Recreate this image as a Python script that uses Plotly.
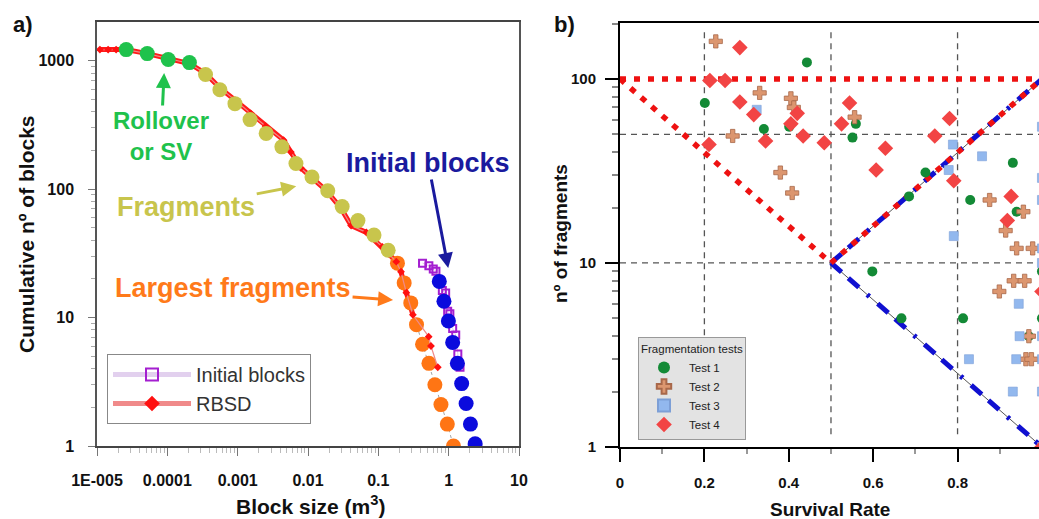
import math
import plotly.graph_objects as go

W, H = 1039, 519
FONT = "Arial, Liberation Sans, sans-serif"

# ---------------- Panel a data ----------------
rbsd_size = [1.10e-5, 1.44e-5, 1.87e-5, 2.60e-5, 5.18e-5, 1.03e-4, 2.06e-4, 3.49e-4, 5.7e-4, 9.3e-4,
             1.53e-3, 2.5e-3, 4.5e-3, 5.7e-3, 7.9e-3, 1.14e-2, 1.8e-2, 2.94e-2, 4.1e-2, 6.75e-2,
             0.114, 0.14, 0.18, 0.21, 0.25, 0.31, 0.52, 0.56, 0.70]
rbsd_count = [1217, 1217, 1217, 1217, 1133, 1037, 949, 793, 607, 490,
              388, 308, 240, 194, 146, 122, 98, 71, 52, 46,
              35.5, 31.3, 27.2, 22.7, 15.6, 10.5, 7.1, 6.0, 4.1]
rbsd_thick_n = 26

rollover_size = [2.60e-5, 5.18e-5, 1.03e-4, 2.06e-4]
rollover_count = [1217, 1133, 1018, 964]

fragments_size = [3.49e-4, 5.59e-4, 9.15e-4, 1.50e-3, 2.54e-3, 4.25e-3, 6.74e-3,
                  1.14e-2, 1.91e-2, 3.06e-2, 5.13e-2, 8.68e-2, 0.138]
fragments_count = [779, 593, 462, 347, 271, 213, 158, 124, 97, 73, 56.8, 43.8, 33.4]

largest_size = [0.187, 0.233, 0.289, 0.349, 0.425, 0.524, 0.637, 0.777, 0.957, 1.17]
largest_count = [26.5, 18.6, 13.0, 8.8, 6.2, 4.4, 3.0, 2.1, 1.48, 1.0]

initial_size = [0.736, 0.857, 0.991, 1.14, 1.33, 1.53, 1.77, 2.04, 2.38]
initial_count = [19.1, 13.4, 9.4, 6.4, 4.4, 3.06, 2.14, 1.48, 1.04]

initial_sq_size = [0.425, 0.523, 0.604, 0.659, 0.813, 0.906, 0.968, 1.04, 1.14, 1.26, 1.35, 1.45]
initial_sq_count = [26.5, 25.3, 23.9, 22.9, 16.2, 15.5, 11.2, 10.7, 8.2, 7.3, 5.2, 4.1]

a_xtick_vals = [1e-5, 1e-4, 1e-3, 1e-2, 1e-1, 1, 10]
a_xtick_text = ["1E-005", "0.0001", "0.001", "0.01", "0.1", "1", "10"]
a_ytick_vals = [1, 10, 100, 1000]
a_ytick_text = ["1", "10", "100", "1000"]

# ---------------- Panel b data ----------------
t1_sr = [0.201, 0.341, 0.401, 0.443, 0.551, 0.559, 0.598, 0.667, 0.685, 0.724,
         0.813, 0.830, 0.931, 0.940, 0.969, 1.0, 1.0]
t1_n = [74, 53.5, 55, 123, 48, 57, 9, 5, 23, 31, 5, 22, 35, 19, 4, 9, 5]

t2_sr = [0.227, 0.267, 0.331, 0.380, 0.405, 0.408, 0.412, 0.556, 0.876, 0.899,
         0.914, 0.933, 0.940, 0.956, 0.959, 0.969, 0.962, 0.978, 0.975]
t2_n = [160, 49, 84, 31, 78.5, 24, 70, 62, 22, 7, 15, 8, 12, 19, 8, 4, 3, 12, 3]

t3_sr = [0.324, 0.779, 0.789, 0.791, 0.827, 0.858, 0.931, 0.939, 0.945, 0.947,
         1.0, 1.0, 1.0, 1.0, 1.0, 1.0, 1.0, 1.0, 1.0]
t3_n = [68, 32, 44, 14, 3, 38, 2, 3, 6, 4, 55, 29, 22, 12, 10, 4, 3, 2, 1]

t4_sr = [0.211, 0.213, 0.249, 0.284, 0.284, 0.317, 0.345, 0.405, 0.420, 0.434,
         0.484, 0.525, 0.544, 0.607, 0.629, 0.746, 0.781, 0.791, 0.918, 0.927, 1.0, 1.0]
t4_n = [44, 98, 98, 148, 75, 64, 46, 57, 65, 49, 45, 57, 74, 32, 42, 49, 61, 28, 17, 23, 7, 1]

upper_sr, upper_n = [0, 1], [100, 100]
left_sr, left_n = [0, 0.5], [100, 10]
right_sr, right_n = [0.5, 1], [10, 100]
lower_sr, lower_n = [0.5, 1], [10, 1]
guide_sr = [0.2, 0.5, 0.8]
guide_n = [50, 10]

b_xtick_vals = [0, 0.2, 0.4, 0.6, 0.8, 1.0]
b_xtick_text = ["0", "0.2", "0.4", "0.6", "0.8", "1"]
b_ytick_vals = [1, 10, 100]
b_ytick_text = ["1", "10", "100"]


def px_x(p):
    return p / W


def px_y(p):
    return 1 - p / H


fig = go.Figure()

# ---- panel a traces ----
fig.add_trace(go.Scatter(x=rbsd_size[:rbsd_thick_n], y=rbsd_count[:rbsd_thick_n], mode="lines",
                         line=dict(color="#ff1a1a", width=5), showlegend=False,
                         xaxis="x", yaxis="y"))
fig.add_trace(go.Scatter(x=largest_size, y=largest_count, mode="lines+markers",
                         line=dict(color="#8a8a8a", width=0.8, dash="dot"),
                         marker=dict(size=15, color="#ff7514"), showlegend=False,
                         xaxis="x", yaxis="y"))
fig.add_trace(go.Scatter(x=rbsd_size, y=rbsd_count, mode="lines+markers", name="RBSD",
                         line=dict(color="#f08a8a", width=1.2),
                         marker=dict(symbol="diamond", size=6, color="#ff1010"),
                         legend="legend", legendrank=2, xaxis="x", yaxis="y"))
fig.add_trace(go.Scatter(x=fragments_size, y=fragments_count, mode="markers",
                         marker=dict(size=15, color="#c8c54c"), showlegend=False,
                         xaxis="x", yaxis="y"))
fig.add_trace(go.Scatter(x=rollover_size, y=rollover_count, mode="markers",
                         marker=dict(size=15, color="#1fc24c"), showlegend=False,
                         xaxis="x", yaxis="y"))
fig.add_trace(go.Scatter(x=initial_sq_size, y=initial_sq_count, mode="lines+markers",
                         name="Initial blocks",
                         line=dict(color="#e2d0ee", width=1),
                         marker=dict(symbol="square-open", size=7, color="#a41fd0",
                                     line=dict(width=2, color="#a41fd0")),
                         legend="legend", legendrank=1, xaxis="x", yaxis="y"))
fig.add_trace(go.Scatter(x=initial_size, y=initial_count, mode="markers",
                         marker=dict(size=15, color="#0b0bdd"), showlegend=False,
                         xaxis="x", yaxis="y"))

# ---- panel b reference lines ----
for sx, sn in ((right_sr, right_n), (lower_sr, lower_n)):
    fig.add_trace(go.Scatter(x=sx, y=sn, mode="lines", line=dict(color="#555", width=1),
                             showlegend=False, xaxis="x2", yaxis="y2"))
for sx, sn in ((right_sr, right_n), (lower_sr, lower_n)):
    fig.add_trace(go.Scatter(x=sx, y=sn, mode="lines",
                             line=dict(color="#1010d0", width=5, dash="14px,9px,14px,11px,3px,11px"),
                             showlegend=False, xaxis="x2", yaxis="y2"))
for sx, sn in ((upper_sr, upper_n), (left_sr, left_n), (right_sr, right_n)):
    fig.add_trace(go.Scatter(x=sx, y=sn, mode="lines",
                             line=dict(color="#ee1111", width=5.5, dash="6px,8px"),
                             showlegend=False, xaxis="x2", yaxis="y2"))

# ---- panel b tests ----
fig.add_trace(go.Scatter(x=t1_sr, y=t1_n, mode="markers", name="Test 1",
                         marker=dict(symbol="circle", size=10, color="#138a36"),
                         legend="legend2", xaxis="x2", yaxis="y2"))
fig.add_trace(go.Scatter(x=t2_sr, y=t2_n, mode="markers", name="Test 2",
                         marker=dict(symbol="cross", size=11, color="#dc966f",
                                     line=dict(width=0.8, color="#a8684a")),
                         legend="legend2", xaxis="x2", yaxis="y2"))
fig.add_trace(go.Scatter(x=t3_sr, y=t3_n, mode="markers", name="Test 3",
                         marker=dict(symbol="square", size=9, color="#92b8ee",
                                     line=dict(width=0.6, color="#7d9fd6")),
                         legend="legend2", xaxis="x2", yaxis="y2"))
fig.add_trace(go.Scatter(x=t4_sr, y=t4_n, mode="markers", name="Test 4",
                         marker=dict(symbol="diamond", size=12, color="#f24444"),
                         legend="legend2", xaxis="x2", yaxis="y2"))

# ---- gray dashed guides ----
shapes = []
for v in guide_sr:
    shapes.append(dict(type="line", xref="x2", yref="y2 domain", x0=v, x1=v, y0=0.03, y1=0.98,
                       line=dict(color="#555", width=1.3, dash="6px,5px"), layer="below"))
for v in guide_n:
    shapes.append(dict(type="line", xref="x2 domain", yref="y2", x0=0, x1=1, y0=v, y1=v,
                       line=dict(color="#555", width=1.3, dash="6px,5px"), layer="below"))

# ---- minor tick positions ----
a_xminor = [m * 10 ** e for e in range(-5, 1) for m in range(2, 10)]
a_yminor = [m * 10 ** e for e in range(0, 4) for m in range(2, 10)]
b_yminor = [m * 10 ** e for e in range(0, 3) for m in range(2, 10)]

bold_a = dict(family=FONT, size=16, color="#111", weight="bold")
bold_b = dict(family=FONT, size=15, color="#111", weight="bold")

fig.update_layout(
    width=W, height=H, margin=dict(l=0, r=0, t=0, b=0, autoexpand=False),
    paper_bgcolor="white", plot_bgcolor="white",
    font=dict(family=FONT, color="#111"),
    shapes=shapes,
    xaxis=dict(type="log", range=[-5, 1], domain=[px_x(97), px_x(519)], anchor="y",
               automargin=False,
               tickmode="array", tickvals=a_xtick_vals, ticktext=a_xtick_text,
               ticks="outside", ticklen=8, tickcolor="#777", tickwidth=1,
               minor=dict(tickmode="array", tickvals=a_xminor, ticks="outside", ticklen=5,
                          tickcolor="#bbb", showgrid=False),
               showgrid=False, zeroline=False, showline=True, linecolor="#444", linewidth=1.5,
               mirror=True, tickfont=bold_a, ticklabelstandoff=11),
    yaxis=dict(type="log", range=[0, 3.30], domain=[px_y(446), px_y(22)], anchor="x",
               automargin=False,
               tickmode="array", tickvals=a_ytick_vals, ticktext=a_ytick_text,
               ticks="outside", ticklen=7, tickcolor="#777",
               minor=dict(tickmode="array", tickvals=a_yminor, ticks="outside", ticklen=4,
                          tickcolor="#aaa", showgrid=False),
               showgrid=False, zeroline=False, showline=True, linecolor="#555", linewidth=1.5,
               mirror=True, tickfont=bold_a, ticklabelstandoff=11),
    xaxis2=dict(range=[0, 0.993], domain=[px_x(620), 1.0], anchor="y2",
                automargin=False,
                tickmode="array", tickvals=b_xtick_vals, ticktext=b_xtick_text,
                ticks="outside", ticklen=13, tickwidth=2, tickcolor="#000",
                minor=dict(dtick=0.1, ticks="outside", ticklen=5, tickcolor="#999", showgrid=False),
                showgrid=False, zeroline=False, showline=True, linecolor="#000", linewidth=2,
                mirror=True, tickfont=bold_b, ticklabelstandoff=8),
    yaxis2=dict(type="log", range=[0, 2.304], domain=[px_y(447), px_y(23)], anchor="x2",
                automargin=False,
                tickmode="array", tickvals=b_ytick_vals, ticktext=b_ytick_text,
                ticks="outside", ticklen=13, tickwidth=2, tickcolor="#000",
                minor=dict(tickmode="array", tickvals=b_yminor, ticks="outside", ticklen=6,
                           tickcolor="#888", showgrid=False),
                showgrid=False, zeroline=False, showline=True, linecolor="#000", linewidth=2,
                tickfont=bold_b, ticklabelstandoff=6),
    legend=dict(x=px_x(107), y=px_y(354), xanchor="left", yanchor="top",
                font=dict(family=FONT, size=20, color="#333"),
                bgcolor="white", bordercolor="#888", borderwidth=1,
                itemsizing="constant", itemwidth=78, tracegroupgap=0),
    legend2=dict(x=px_x(638), y=px_y(337), xanchor="left", yanchor="top",
                 title=dict(text="Fragmentation tests", font=dict(family=FONT, size=11.5, color="#222")),
                 font=dict(family=FONT, size=11.5, color="#222"),
                 bgcolor="#e3e3e3", bordercolor="#999", borderwidth=1,
                 itemsizing="constant", itemwidth=40),
)

annos = []


def txt(text, x, y, size, color="#111", angle=0):
    annos.append(dict(text=text, xref="paper", yref="paper", x=px_x(x), y=px_y(y),
                      xanchor="center", yanchor="middle", showarrow=False, textangle=angle,
                      font=dict(family=FONT, size=size, color=color, weight="bold")))


def label_arrow(text, hx, hy, ax, ay, size, color):
    # text centre sits at (ax, ay) pixels from the arrow head (hx, hy) in data units
    annos.append(dict(text=text, xref="x", yref="y", x=math.log10(hx), y=math.log10(hy),
                      ax=ax, ay=ay, showarrow=True, arrowhead=2, arrowsize=1,
                      arrowwidth=3, arrowcolor=color, standoff=0,
                      font=dict(family=FONT, size=size, color=color, weight="bold")))


txt("a)", 23, 25, 22)
txt("b)", 564, 25, 22)
txt("Cumulative nº of blocks", 26, 234, 21, angle=-90)
txt("Block size (m<sup>3</sup>)", 310, 505, 21)
txt("nº of fragments", 560, 234, 19, angle=-90)
txt("Survival Rate", 830, 509, 19)

label_arrow("Rollover<br>or SV", 9.0e-5, 800, -3, 63, 24, "#1fc24c")
label_arrow("Fragments", 6.8e-3, 105, -110, 21, 27, "#c8c54c")
label_arrow("Initial blocks", 0.985, 24.3, -20, -105, 27, "#1a1a9e")
label_arrow("Largest fragments", 0.162, 13.7, -160, -12, 27, "#ff7a1a")

fig.update_layout(annotations=annos)

fig.write_html("out.html")
